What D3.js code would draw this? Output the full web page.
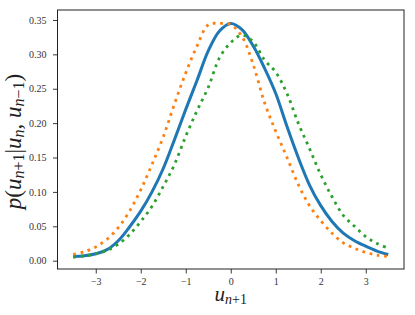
<!DOCTYPE html>
<html><head><meta charset="utf-8">
<script src="https://cdn.jsdelivr.net/npm/d3@7"></script>
<style>
html,body{margin:0;padding:0;background:#fff;}
svg{display:block;}
</style></head>
<body>
<script>
const xs = [-3.5,-3.25,-3.0,-2.75,-2.5,-2.25,-2.0,-1.75,-1.5,-1.25,-1.0,-0.75,-0.5,-0.25,0.0,0.25,0.5,0.75,1.0,1.25,1.5,1.75,2.0,2.25,2.5,2.75,3.0,3.25,3.5];
const blueVals = [0.006,0.007,0.010,0.016,0.029,0.049,0.072,0.100,0.134,0.176,0.220,0.262,0.305,0.334,0.345,0.336,0.312,0.280,0.243,0.195,0.150,0.110,0.080,0.057,0.040,0.029,0.021,0.014,0.009];
const orangeVals = [0.009,0.013,0.020,0.031,0.048,0.072,0.103,0.140,0.180,0.228,0.273,0.312,0.343,0.345,0.343,0.326,0.285,0.230,0.188,0.150,0.111,0.080,0.058,0.040,0.026,0.018,0.012,0.008,0.006];
const greenVals = [0.005,0.007,0.010,0.015,0.024,0.038,0.057,0.079,0.108,0.140,0.181,0.218,0.252,0.295,0.317,0.328,0.318,0.292,0.274,0.243,0.200,0.163,0.125,0.093,0.066,0.050,0.035,0.025,0.018];
const xTicks = [-3,-2,-1,0,1,2,3];
const yTicks = [0.00,0.05,0.10,0.15,0.20,0.25,0.30,0.35];

const W = 415, H = 315;
const L = 57.5, R = 404, T = 10, B = 269;
const svg = d3.select("body").append("svg").attr("width", W).attr("height", H);
const x = d3.scaleLinear().domain([-3.85, 3.85]).range([L, R]);
const y = d3.scaleLinear().domain([-0.0121, 0.3645]).range([B, T]);
const font = "'Liberation Serif', 'DejaVu Serif', serif";

const line = d3.line().x(d => x(d[0])).y(d => y(d[1])).curve(d3.curveCatmullRom.alpha(0.5));
const series = [
  {vals: blueVals, color: "#1f77b4", dash: null},
  {vals: orangeVals, color: "#ff7f0e", dash: "2.8,4.6"},
  {vals: greenVals, color: "#2ca02c", dash: "2.8,4.6"}
];
const g = svg.append("g");
series.forEach(s => {
  g.append("path")
    .datum(xs.map((v, i) => [v, s.vals[i]]))
    .attr("d", line)
    .attr("fill", "none")
    .attr("stroke", s.color)
    .attr("stroke-width", s.dash ? 2.8 : 3)
    .attr("stroke-dasharray", s.dash)
    .attr("stroke-linecap", "butt");
});

// axes
const xAxis = d3.axisBottom(x).tickValues(xTicks).tickSize(4.5).tickPadding(4)
  .tickFormat(d => d < 0 ? "\u2212" + Math.abs(d) : String(d));
const yAxis = d3.axisLeft(y).tickValues(yTicks).tickSize(4.5).tickPadding(6.5)
  .tickFormat(d3.format(".2f"));
const gx = svg.append("g").attr("transform", `translate(0,${B})`).call(xAxis);
const gy = svg.append("g").attr("transform", `translate(${L},0)`).call(yAxis);
[gx, gy].forEach(a => {
  a.attr("font-family", null).attr("font-size", null);
  a.select(".domain").remove();
  a.selectAll(".tick line").attr("stroke", "#222").attr("stroke-width", 0.9);
  a.selectAll(".tick text").style("font-family", font).style("font-size", "10px").attr("fill", "#333");
});

svg.append("rect").attr("x", L).attr("y", T).attr("width", R - L).attr("height", B - T)
  .attr("fill", "none").attr("stroke", "#222").attr("stroke-width", 1);

// x label u_{n+1}
const xl = svg.append("text").attr("x", (L + R) / 2).attr("y", 301)
  .attr("text-anchor", "middle").style("font-family", font).style("font-size", "21px").attr("fill", "#222");
xl.append("tspan").attr("font-style", "italic").text("u");
xl.append("tspan").style("font-size", "14px").attr("dy", 3).attr("font-style", "italic").text("n");
xl.append("tspan").style("font-size", "14px").text("+1");

// y label p(u_{n+1}|u_n, u_{n-1})
const yl = svg.append("text").attr("transform", `translate(21,${(T + B) / 2 + 2}) rotate(-90)`)
  .attr("text-anchor", "middle").style("font-family", font).style("font-size", "23px").attr("fill", "#222");
yl.append("tspan").attr("font-style", "italic").text("p");
yl.append("tspan").text("(");
yl.append("tspan").attr("font-style", "italic").text("u");
yl.append("tspan").style("font-size", "16px").attr("dy", 3).attr("font-style", "italic").text("n");
yl.append("tspan").style("font-size", "16px").text("+1");
yl.append("tspan").attr("dy", -3).text("|");
yl.append("tspan").attr("font-style", "italic").text("u");
yl.append("tspan").style("font-size", "16px").attr("dy", 3).attr("font-style", "italic").text("n");
yl.append("tspan").attr("dy", -3).text(", ");
yl.append("tspan").attr("font-style", "italic").text("u");
yl.append("tspan").style("font-size", "16px").attr("dy", 3).attr("font-style", "italic").text("n");
yl.append("tspan").style("font-size", "16px").text("\u22121");
yl.append("tspan").attr("dy", -3).text(")");
</script>
</body></html>
